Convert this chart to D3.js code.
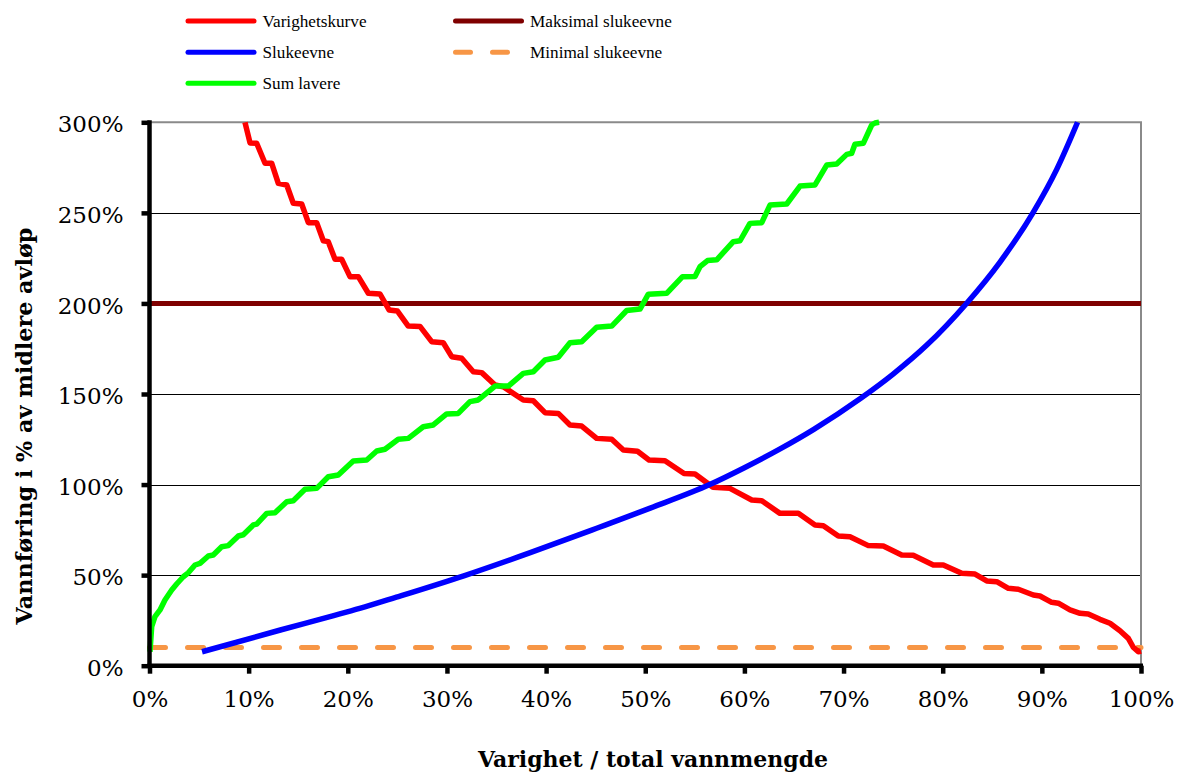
<!DOCTYPE html>
<html>
<head>
<meta charset="utf-8">
<script src="https://cdn.jsdelivr.net/npm/d3@7"></script>
<style>
  html, body { margin: 0; padding: 0; background: #ffffff; }
  svg { display: block; }
</style>
</head>
<body>
<svg id="chart" width="1177" height="775"></svg>
<script>
// ---------------- DATA ----------------
// x = varighet / total vannmengde (%), y = vannføring i % av midlere avløp
const varighetskurve = [
  [9.63,300.0],[10.14,288.6],[10.81,288.4],[11.65,277.4],[12.32,277.4],[12.99,266.3],[13.84,265.4],
  [14.50,255.3],[15.35,254.9],[16.02,244.6],[16.86,244.6],[17.53,234.6],[18.03,234.1],[18.71,224.4],
  [19.38,224.4],[20.22,214.8],[21.06,214.8],[22.07,205.6],[23.25,205.2],[24.16,196.4],[25.01,195.8],
  [26.10,187.5],[27.28,187.3],[28.46,178.9],[29.63,178.3],[30.48,170.6],[31.49,169.7],[32.66,162.3],
  [33.51,161.8],[34.85,155.0],[35.68,154.0],[37.70,146.7],[38.71,146.3],[39.89,139.7],[41.23,139.3],
  [42.41,132.9],[43.59,132.3],[45.10,125.5],[46.62,125.0],[47.79,119.1],[49.22,118.4],[50.38,113.6],
  [51.99,113.2],[53.91,106.1],[55.02,105.8],[56.83,98.5],[58.54,97.9],[60.74,91.5],[61.75,91.1],
  [63.59,84.1],[65.44,84.1],[67.12,77.7],[67.96,77.3],[69.47,71.6],[70.65,71.2],[72.50,66.3],
  [74.01,66.1],[75.86,61.1],[77.03,61.0],[79.05,55.6],[80.06,55.6],[81.92,51.0],[83.26,50.6],
  [84.44,46.8],[85.45,46.4],[86.62,42.7],[87.63,42.2],[89.14,39.0],[89.81,38.5],[90.99,35.0],
  [91.66,34.5],[92.84,30.8],[93.85,28.9],[94.68,28.5],[95.86,25.6],[96.87,23.4],[97.88,19.3],
  [98.72,15.1],[99.22,10.2],[99.73,7.7],[100,8.1]
];
const slukeevne = [
  [5.3,7.7],[13.2,19.7],[18.2,27.1],[21.2,31.6],[24.9,37.8],[31.7,49.6],[38.4,62.4],[45.1,75.9],
  [50.5,87.0],[56.5,100.0],[60.0,109.3],[63.6,119.7],[67.0,130.5],[71.7,147.5],[75.0,161.0],
  [78.4,177.0],[82.4,200.0],[85.8,223.0],[89.1,250.0],[91.5,274.0],[93.6,300.0]
];
const sumLavere = [
  [0.05,7.7],[0.22,21.5],[0.55,27.1],[1.06,30.8],[1.56,36.3],[2.24,41.8],[2.74,45.1],[3.41,49.1],
  [3.91,51.3],[4.59,55.6],[5.09,56.5],[5.93,60.6],[6.43,61.1],[7.28,65.7],[7.95,66.3],[8.96,71.6],
  [9.46,72.3],[10.47,77.7],[10.81,78.2],[11.82,84.1],[12.66,84.5],[13.84,90.5],[14.50,91.1],
  [15.68,97.4],[16.86,97.9],[18.03,104.3],[19.04,105.3],[20.55,113.0],[21.91,113.6],[22.92,118.5],
  [23.75,119.5],[25.09,125.0],[26.10,125.5],[27.61,131.9],[28.62,132.9],[29.97,139.0],[31.14,139.3],
  [32.32,145.8],[33.16,146.7],[34.85,154.4],[36.19,154.4],[37.70,161.4],[38.71,162.3],[39.89,168.8],
  [41.23,170.3],[42.41,178.3],[43.59,178.9],[45.10,186.8],[46.62,187.5],[48.13,196.1],[49.47,196.9],
  [50.31,205.1],[52.16,205.6],[53.76,214.8],[55.02,214.9],[55.52,220.3],[56.28,223.7],[57.21,224.1],
  [58.88,234.1],[59.56,234.6],[60.56,244.2],[61.75,244.6],[62.58,254.3],[64.27,254.9],[65.61,264.8],
  [67.12,265.4],[68.30,276.4],[69.31,277.0],[70.32,282.3],[70.82,282.9],[71.15,287.9],[71.99,288.4],
  [72.84,298.5],[73.17,299.6],[73.58,300.0]
];
const maksimalSlukeevne = 200;   // constant line
const minimalSlukeevne = 10;     // constant line (dashed)
const xTicks = [0,10,20,30,40,50,60,70,80,90,100];
const yTicks = [0,50,100,150,200,250,300];
const legendLabels = ["Varighetskurve","Maksimal slukeevne","Slukeevne","Minimal slukeevne","Sum lavere"];
const xTitle = "Varighet / total vannmengde";
const yTitle = "Vannføring i % av midlere avløp";

// ---------------- LAYOUT / STYLE ----------------
const colors = {
  "Varighetskurve": "#ff0000",
  "Maksimal slukeevne": "#7f0000",
  "Slukeevne": "#0000ff",
  "Minimal slukeevne": "#f79646",
  "Sum lavere": "#00ff00"
};
const plot = { left: 149.5, right: 1141, top: 122.3, bottom: 665.7 };
const tickFont = "'DejaVu Serif', serif";
const legendFont = "'Liberation Serif', serif";
const titleFont = "'DejaVu Serif', serif";

const svg = d3.select("#chart");
svg.append("rect").attr("width", 1177).attr("height", 775).attr("fill", "#fff");

const x = d3.scaleLinear().domain([0, 100]).range([plot.left, plot.right]);
const y = d3.scaleLinear().domain([0, 300]).range([plot.bottom, plot.top]);

// gridlines
svg.append("g")
  .selectAll("line")
  .data(yTicks.filter(t => t > 0 && t < 300))
  .join("line")
  .attr("x1", plot.left).attr("x2", plot.right)
  .attr("y1", d => Math.round(y(d)) + 0.5).attr("y2", d => Math.round(y(d)) + 0.5)
  .attr("stroke", "#000").attr("stroke-width", 1);

// plot area border (top & right, gray)
svg.append("path")
  .attr("d", `M${plot.left},${plot.top}H${plot.right}V${plot.bottom}`)
  .attr("fill", "none").attr("stroke", "#8a8a8a").attr("stroke-width", 2);

const line = d3.line().x(d => x(d[0])).y(d => y(d[1]));

// Maksimal slukeevne
svg.append("path")
  .datum([[0, maksimalSlukeevne], [100, maksimalSlukeevne]])
  .attr("d", line)
  .attr("fill", "none").attr("stroke", colors["Maksimal slukeevne"]).attr("stroke-width", 5);

// Minimal slukeevne (dashed)
svg.append("path")
  .datum([[0, minimalSlukeevne], [100, minimalSlukeevne]])
  .attr("d", line)
  .attr("fill", "none").attr("stroke", colors["Minimal slukeevne"]).attr("stroke-width", 5)
  .attr("stroke-linecap", "round").attr("stroke-dasharray", "16 22");

// Varighetskurve
svg.append("path")
  .datum(varighetskurve)
  .attr("d", line)
  .attr("fill", "none").attr("stroke", colors["Varighetskurve"]).attr("stroke-width", 5.5)
  .attr("stroke-linejoin", "round");

// Slukeevne (smooth)
svg.append("path")
  .datum(slukeevne)
  .attr("d", d3.line().x(d => x(d[0])).y(d => y(d[1])).curve(d3.curveMonotoneX))
  .attr("fill", "none").attr("stroke", colors["Slukeevne"]).attr("stroke-width", 5.5);

// Sum lavere
svg.append("path")
  .datum(sumLavere)
  .attr("d", line)
  .attr("fill", "none").attr("stroke", colors["Sum lavere"]).attr("stroke-width", 5.5)
  .attr("stroke-linejoin", "round");

// axes
const yAxis = d3.axisLeft(y).tickValues(yTicks).tickFormat(d => d + "%")
  .tickSize(8).tickSizeOuter(0).tickPadding(18);
const gy = svg.append("g").attr("transform", `translate(${plot.left},0)`).call(yAxis);
gy.select(".domain").attr("stroke", "#000").attr("stroke-width", 4.5)
  .attr("d", `M0,${plot.top - 2}V${plot.bottom + 2}`);
gy.selectAll(".tick line").attr("stroke", "#000").attr("stroke-width", 4.5);
gy.selectAll(".tick text").attr("font-family", tickFont).attr("font-size", 23)
  .attr("fill", "#000").attr("dy", "0.42em");

const xAxis = d3.axisBottom(x).tickValues(xTicks).tickFormat(d => d + "%")
  .tickSize(8).tickSizeOuter(0).tickPadding(17);
const gx = svg.append("g").attr("transform", `translate(0,${plot.bottom})`).call(xAxis);
gx.select(".domain").attr("stroke", "#000").attr("stroke-width", 4.5)
  .attr("d", `M${plot.left - 2},0H${plot.right + 2}`);
gx.selectAll(".tick line").attr("stroke", "#000").attr("stroke-width", 4.5);
gx.selectAll(".tick text").attr("font-family", tickFont).attr("font-size", 23)
  .attr("fill", "#000");

// titles (fit to reference widths)
function fit(sel, target) {
  const w = sel.node().getComputedTextLength();
  const fs = parseFloat(sel.attr("font-size"));
  if (w > 0) sel.attr("font-size", (fs * target / w).toFixed(2));
}
const xt = svg.append("text").text(xTitle)
  .attr("x", 653).attr("y", 767).attr("text-anchor", "middle")
  .attr("font-family", titleFont).attr("font-weight", "bold").attr("font-size", 22).attr("fill", "#000");
fit(xt, 350);
const yt = svg.append("text").text(yTitle)
  .attr("transform", "translate(32,426) rotate(-90)").attr("text-anchor", "middle")
  .attr("font-family", titleFont).attr("font-weight", "bold").attr("font-size", 22).attr("fill", "#000");
fit(yt, 397);

// legend
const legendPos = [
  { col: 0, row: 0 }, { col: 1, row: 0 }, { col: 0, row: 1 }, { col: 1, row: 1 }, { col: 0, row: 2 }
];
const colX = [185.5, 453];
const rowY = [21, 52.3, 83.3];
const lg = svg.append("g");
legendLabels.forEach((name, i) => {
  const p = legendPos[i];
  const lx = colX[p.col], ly = rowY[p.row];
  const dashed = name === "Minimal slukeevne";
  lg.append("line")
    .attr("x1", lx + 2.5).attr("x2", lx + 68.5).attr("y1", ly).attr("y2", ly)
    .attr("stroke", colors[name]).attr("stroke-width", 5)
    .attr("stroke-linecap", "round")
    .attr("stroke-dasharray", dashed ? "15 22" : null);
  lg.append("text").text(name)
    .attr("x", lx + 77).attr("y", ly + 6)
    .attr("font-family", legendFont).attr("font-size", 17.2).attr("fill", "#000");
});
</script>
</body>
</html>
